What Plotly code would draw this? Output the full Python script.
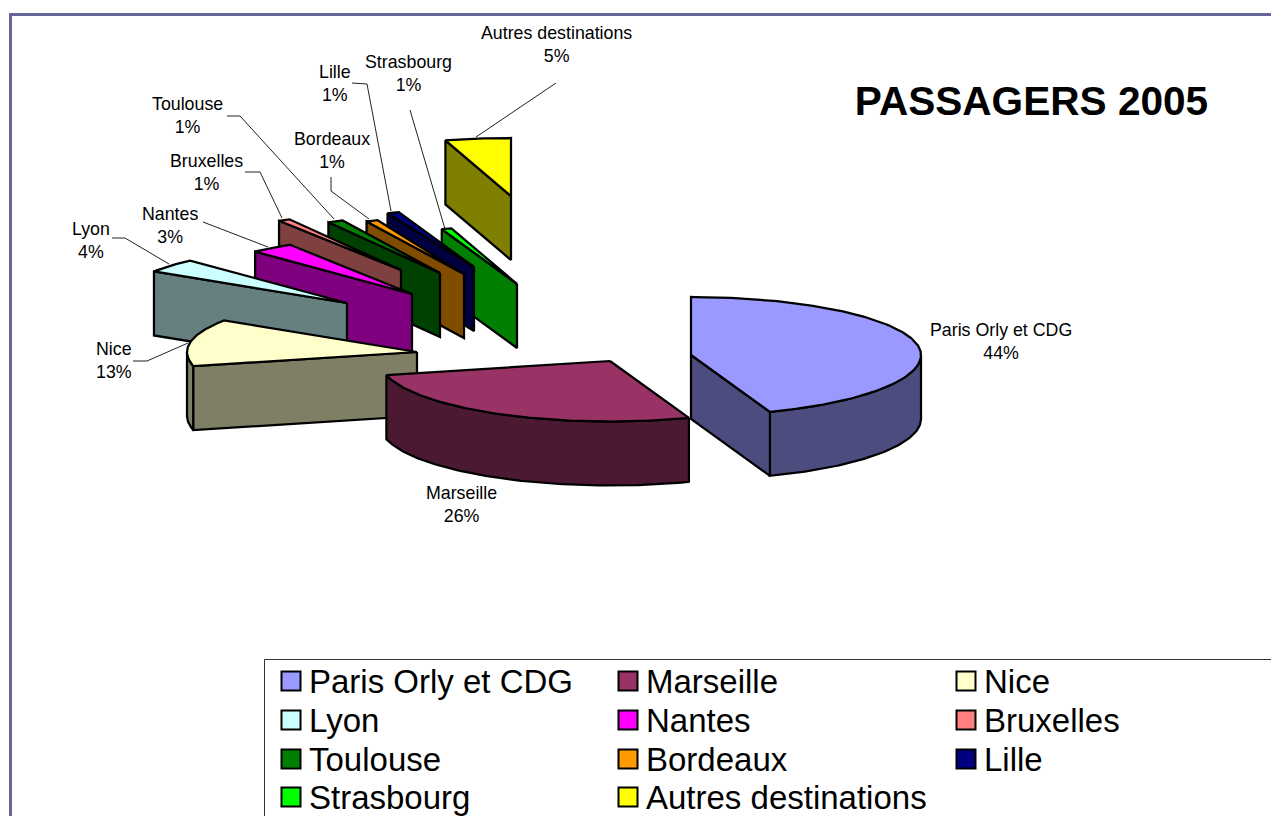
import math
import plotly.graph_objects as go

# ---- data ----
categories = ["Paris Orly et CDG", "Marseille", "Nice", "Lyon", "Nantes", "Bruxelles",
              "Toulouse", "Bordeaux", "Lille", "Strasbourg", "Autres destinations"]
percent_labels = [44, 26, 13, 4, 3, 1, 1, 1, 1, 1, 5]
slice_shares = [44.4, 26.8, 12.9, 3.9, 3.05, 0.83, 1.1, 0.83, 0.83, 0.7, 4.6]

# ---- styles ----
top_colors = ["#9999FF", "#993366", "#FFFFCC", "#CCFFFF", "#FF00FF", "#FF8080",
              "#008000", "#FF9900", "#000080", "#00FF00", "#FFFF00"]
side_colors = ["#4C4C7F", "#4C1933", "#7F7F66", "#667F7F", "#7F007F", "#7F4040",
               "#004000", "#7F4C00", "#000040", "#007F00", "#7F7F00"]

# ---- layout of the exploded pie, in page pixels ----
apex_x = [691, 610, 417, 347, 412, 401, 440, 464, 474, 517, 511]
apex_y = [355, 361, 352, 303, 294, 270, 273, 274, 267, 284, 196]
RX, RY_BACK, RY_FRONT, DEPTH = 230, 58, 60.5, 64

label_x = [1000.5, 461.5, 113.5, 90.5, 169.5, 206.5, 187.5, 331.5, 334.5, 408.5, 556]
label_y = [341, 504, 360, 240, 225, 172, 115, 150, 83, 73, 44]
leaders = [
    None, None,
    [(133, 361), (147, 361), (188, 343)],
    [(112, 238), (125, 238), (169, 264)],
    [(203, 222), (268, 247)],
    [(245, 172), (260, 172), (282, 218)],
    [(227, 116), (240, 116), (334, 219)],
    [(331, 177), (331, 191), (369, 219)],
    [(352, 83), (367, 84), (391, 211)],
    [(410, 110), (445, 229)],
    [(556, 83), (476, 137)],
]

legend_rows = [681, 720, 759, 797]
legend_cols = [291, 628, 966]

FONT = "Liberation Sans"
fig = go.Figure()


def poly(xs, ys, color):
    fig.add_trace(go.Scatter(x=xs, y=ys, mode="lines", fill="toself", fillcolor=color,
                             line=dict(color="black", width=2.25), hoverinfo="skip",
                             showlegend=False))


def pt(i, deg, drop=0):
    t = math.radians(deg)
    c = math.cos(t)
    return apex_x[i] + RX * math.sin(t), apex_y[i] - (RY_BACK if c > 0 else RY_FRONT) * c + drop


def arc(i, a, b, drop=0):
    n = max(2, int(abs(b - a)) + 2)
    return [pt(i, a + (b - a) * k / (n - 1), drop) for k in range(n)]


total = sum(slice_shares)
bounds = [0.0]
for v in slice_shares:
    bounds.append(bounds[-1] + v / total * 360)

for i in range(len(categories) - 1, -1, -1):
    a0, a1 = bounds[i], bounds[i + 1]
    ax, ay = apex_x[i], apex_y[i]
    lo, hi = max(a0, 90), min(a1, 270)
    if lo < hi:
        top = arc(i, lo, hi)
        bot = arc(i, hi, lo, DEPTH)
        p = top + bot + [top[0]]
        poly([q[0] for q in p], [q[1] for q in p], side_colors[i])
    cut = a1 if a1 <= 180 else (a0 if a0 >= 180 else None)
    if cut is not None:
        e = pt(i, cut)
        poly([ax, e[0], e[0], ax, ax], [ay, e[1], e[1] + DEPTH, ay + DEPTH, ay], side_colors[i])
    p = [(ax, ay)] + arc(i, a0, a1) + [(ax, ay)]
    poly([q[0] for q in p], [q[1] for q in p], top_colors[i])

for pts in leaders:
    if pts:
        fig.add_trace(go.Scatter(x=[q[0] for q in pts], y=[q[1] for q in pts], mode="lines",
                                 line=dict(color="#222222", width=1), hoverinfo="skip",
                                 showlegend=False))

# data labels
for i, c in enumerate(categories):
    fig.add_annotation(x=label_x[i], y=label_y[i], text=f"{c}<br>{percent_labels[i]}%",
                       showarrow=False, xanchor="center", yanchor="middle", align="center",
                       font=dict(family=FONT, size=17.8, color="black"))

# legend
for i, c in enumerate(categories):
    row, col = i // 3, i % 3
    x, y = legend_cols[col], legend_rows[row]
    fig.add_trace(go.Scatter(x=[x], y=[y], mode="markers",
                             marker=dict(symbol="square", size=19, color=top_colors[i],
                                         line=dict(color="black", width=2)),
                             hoverinfo="skip", showlegend=False))
    fig.add_annotation(x=x + 16, y=y, text=c, showarrow=False, xanchor="left", yanchor="middle",
                       font=dict(family=FONT, size=33, color="black"))

# frame and legend box
fig.add_shape(type="line", x0=10.5, x1=10.5, y0=14.5, y1=830, line=dict(color="#666699", width=3), layer="below")
fig.add_shape(type="line", x0=9, x1=1290, y0=14.5, y1=14.5, line=dict(color="#666699", width=3), layer="below")
fig.add_shape(type="rect", x0=264.5, x1=1300, y0=659.5, y1=840, line=dict(color="#333333", width=1), layer="below")

fig.update_layout(
    width=1271, height=816, margin=dict(l=0, r=0, t=0, b=0),
    paper_bgcolor="white", plot_bgcolor="white", showlegend=False,
    xaxis=dict(range=[0, 1271], visible=False, fixedrange=True),
    yaxis=dict(range=[816, 0], visible=False, fixedrange=True),
    title=dict(text="<b>PASSAGERS 2005</b>", x=1031.5 / 1271, y=1 - 101 / 816, xanchor="center",
               yanchor="middle", font=dict(family=FONT, size=40.6, color="black")),
)

fig.write_html("out.html", config={"displayModeBar": False},
               post_script="document.body.style.margin='0';document.body.style.overflow='hidden';")
